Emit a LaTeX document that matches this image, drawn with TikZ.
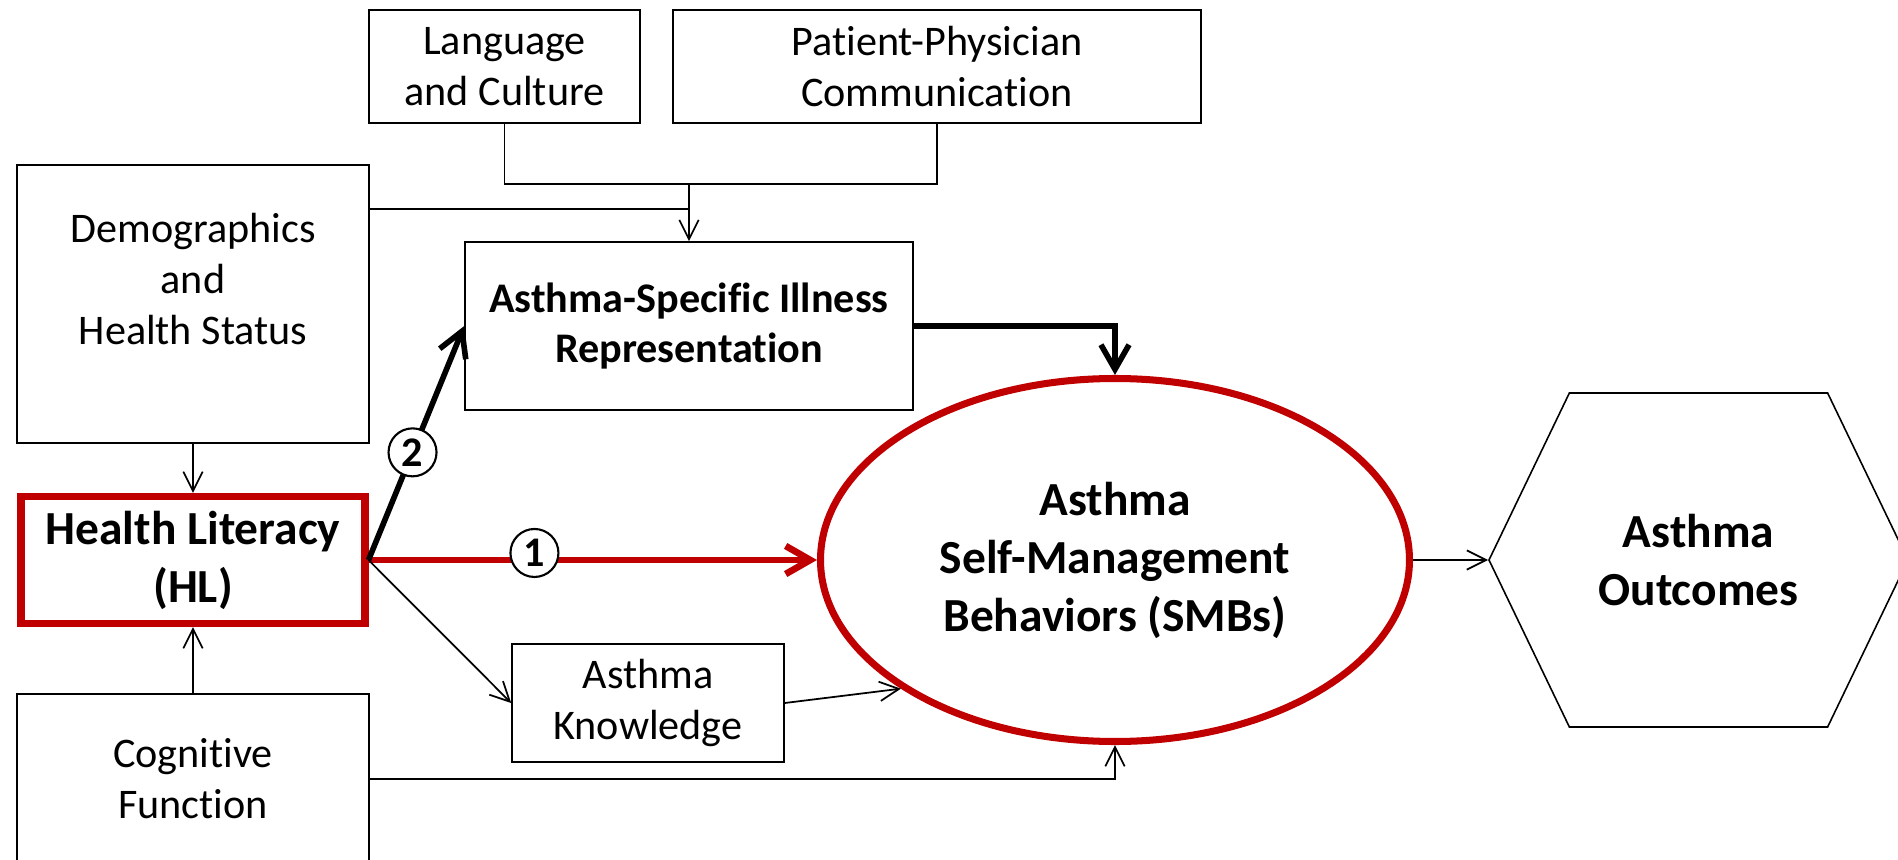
\documentclass[tikz,border=0pt]{standalone}
\usepackage{fontspec}
\setmainfont{Carlito}[Ligatures=NoCommon]
\setsansfont{Carlito}[Ligatures=NoCommon]
\usepackage{tikz}
\usetikzlibrary{positioning,arrows.meta,shapes,shapes.geometric,shapes.symbols}
\definecolor{hlred}{RGB}{192,0,0}
\tikzset{
	every picture/.style={/utils/exec={\sffamily}},
	every node/.style = {font=\fontsize{12}{14.5}\selectfont, inner sep = 3pt},
	>={Straight Barb[length=5.5pt,width=5.5pt]},
	every text node part/.style={align=center},
	box/.style = {draw, line width=0.45pt},
	strong/.style = {font=\fontsize{13.5}{16.5}\selectfont\bfseries},
	key/.style = {draw=hlred, line width=2pt, strong},
	num/.style = {circle, draw=black, text=black, fill=white, line width=0.6pt, minimum size=0.48cm, inner sep=0pt, font=\fontsize{12}{12}\selectfont\bfseries},
	thin/.style = {->, line width=0.5pt},
	heavy/.style = {-{Straight Barb[length=7pt,width=8pt]}, line width=1.6pt},
	redarrow/.style = {heavy, hlred, line width=1.9pt}
}
\begin{document}
\begin{tikzpicture}[x=1cm, y=-1cm, line width=0.5pt]
		\clip (0,0) rectangle (18.98,8.6);
		\node(lang)[box, minimum width=2.71cm, minimum height=1.13cm] at (5.045,0.665) {Language\\and Culture};
		\node(comm)[box, minimum width=5.28cm, minimum height=1.13cm] at (9.37,0.665) {Patient-Physician\\Communication};
		\node(demog)[box, minimum width=3.52cm, minimum height=2.78cm] at (1.93,3.04) {Demographics\\and\\Health Status\\\mbox{}};
		\node(illness)[box, strong, font=\fontsize{12}{14.5}\selectfont\bfseries, minimum width=4.48cm, minimum height=1.68cm] at (6.89,3.26) {Asthma-Specific Illness\\Representation};
		\node(hl)[key, minimum width=3.44cm, minimum height=1.27cm] at (1.93,5.6) {Health Literacy\\(HL)};
		\node(knowl)[box, minimum width=2.72cm, minimum height=1.18cm] at (6.48,7.03) {Asthma\\Knowledge};
		\node(cogn)[box, minimum width=3.52cm, minimum height=1.70cm] at (1.93,7.79) {Cognitive\\Function};
		\node(smb)[ellipse, key, minimum width=5.89cm, minimum height=3.63cm] at (11.15,5.6) {Asthma\\Self-Management\\Behaviors (SMBs)};
		\node(outc)[signal, signal to=east and west, signal pointer angle=128.6, box, strong, minimum width=4.19cm, minimum height=3.34cm] at (16.985,5.6) {Asthma\\Outcomes};
		
		\coordinate(junc) at (6.89,1.84);
		\coordinate(dem) at (3.68,2.09);
		
		\draw (lang.south) |- (junc) -| (comm.south);
		\draw (dem) -- (junc |- dem);
		\path (junc) edge[thin] (illness);
		\draw[heavy] (illness.east) -| (smb.north);
		\path (demog) edge[thin] (hl);
		\path (cogn) edge[thin] (hl);
		\draw[thin] (cogn.east) -| (smb.south);
		\path (hl.east) edge[redarrow] node[num, pos=0.37, yshift=2pt] (one) {1} (smb.west);
		\path (hl.east) edge[heavy] node[num, pos=0.46] (two) {2} (illness.west);
		\path (hl.east) edge[thin] (knowl.west);
		\path (knowl.east) edge[thin] (smb.211);
		\path (smb.east) edge[thin] (outc.west);
		\end{tikzpicture}
\end{document}
